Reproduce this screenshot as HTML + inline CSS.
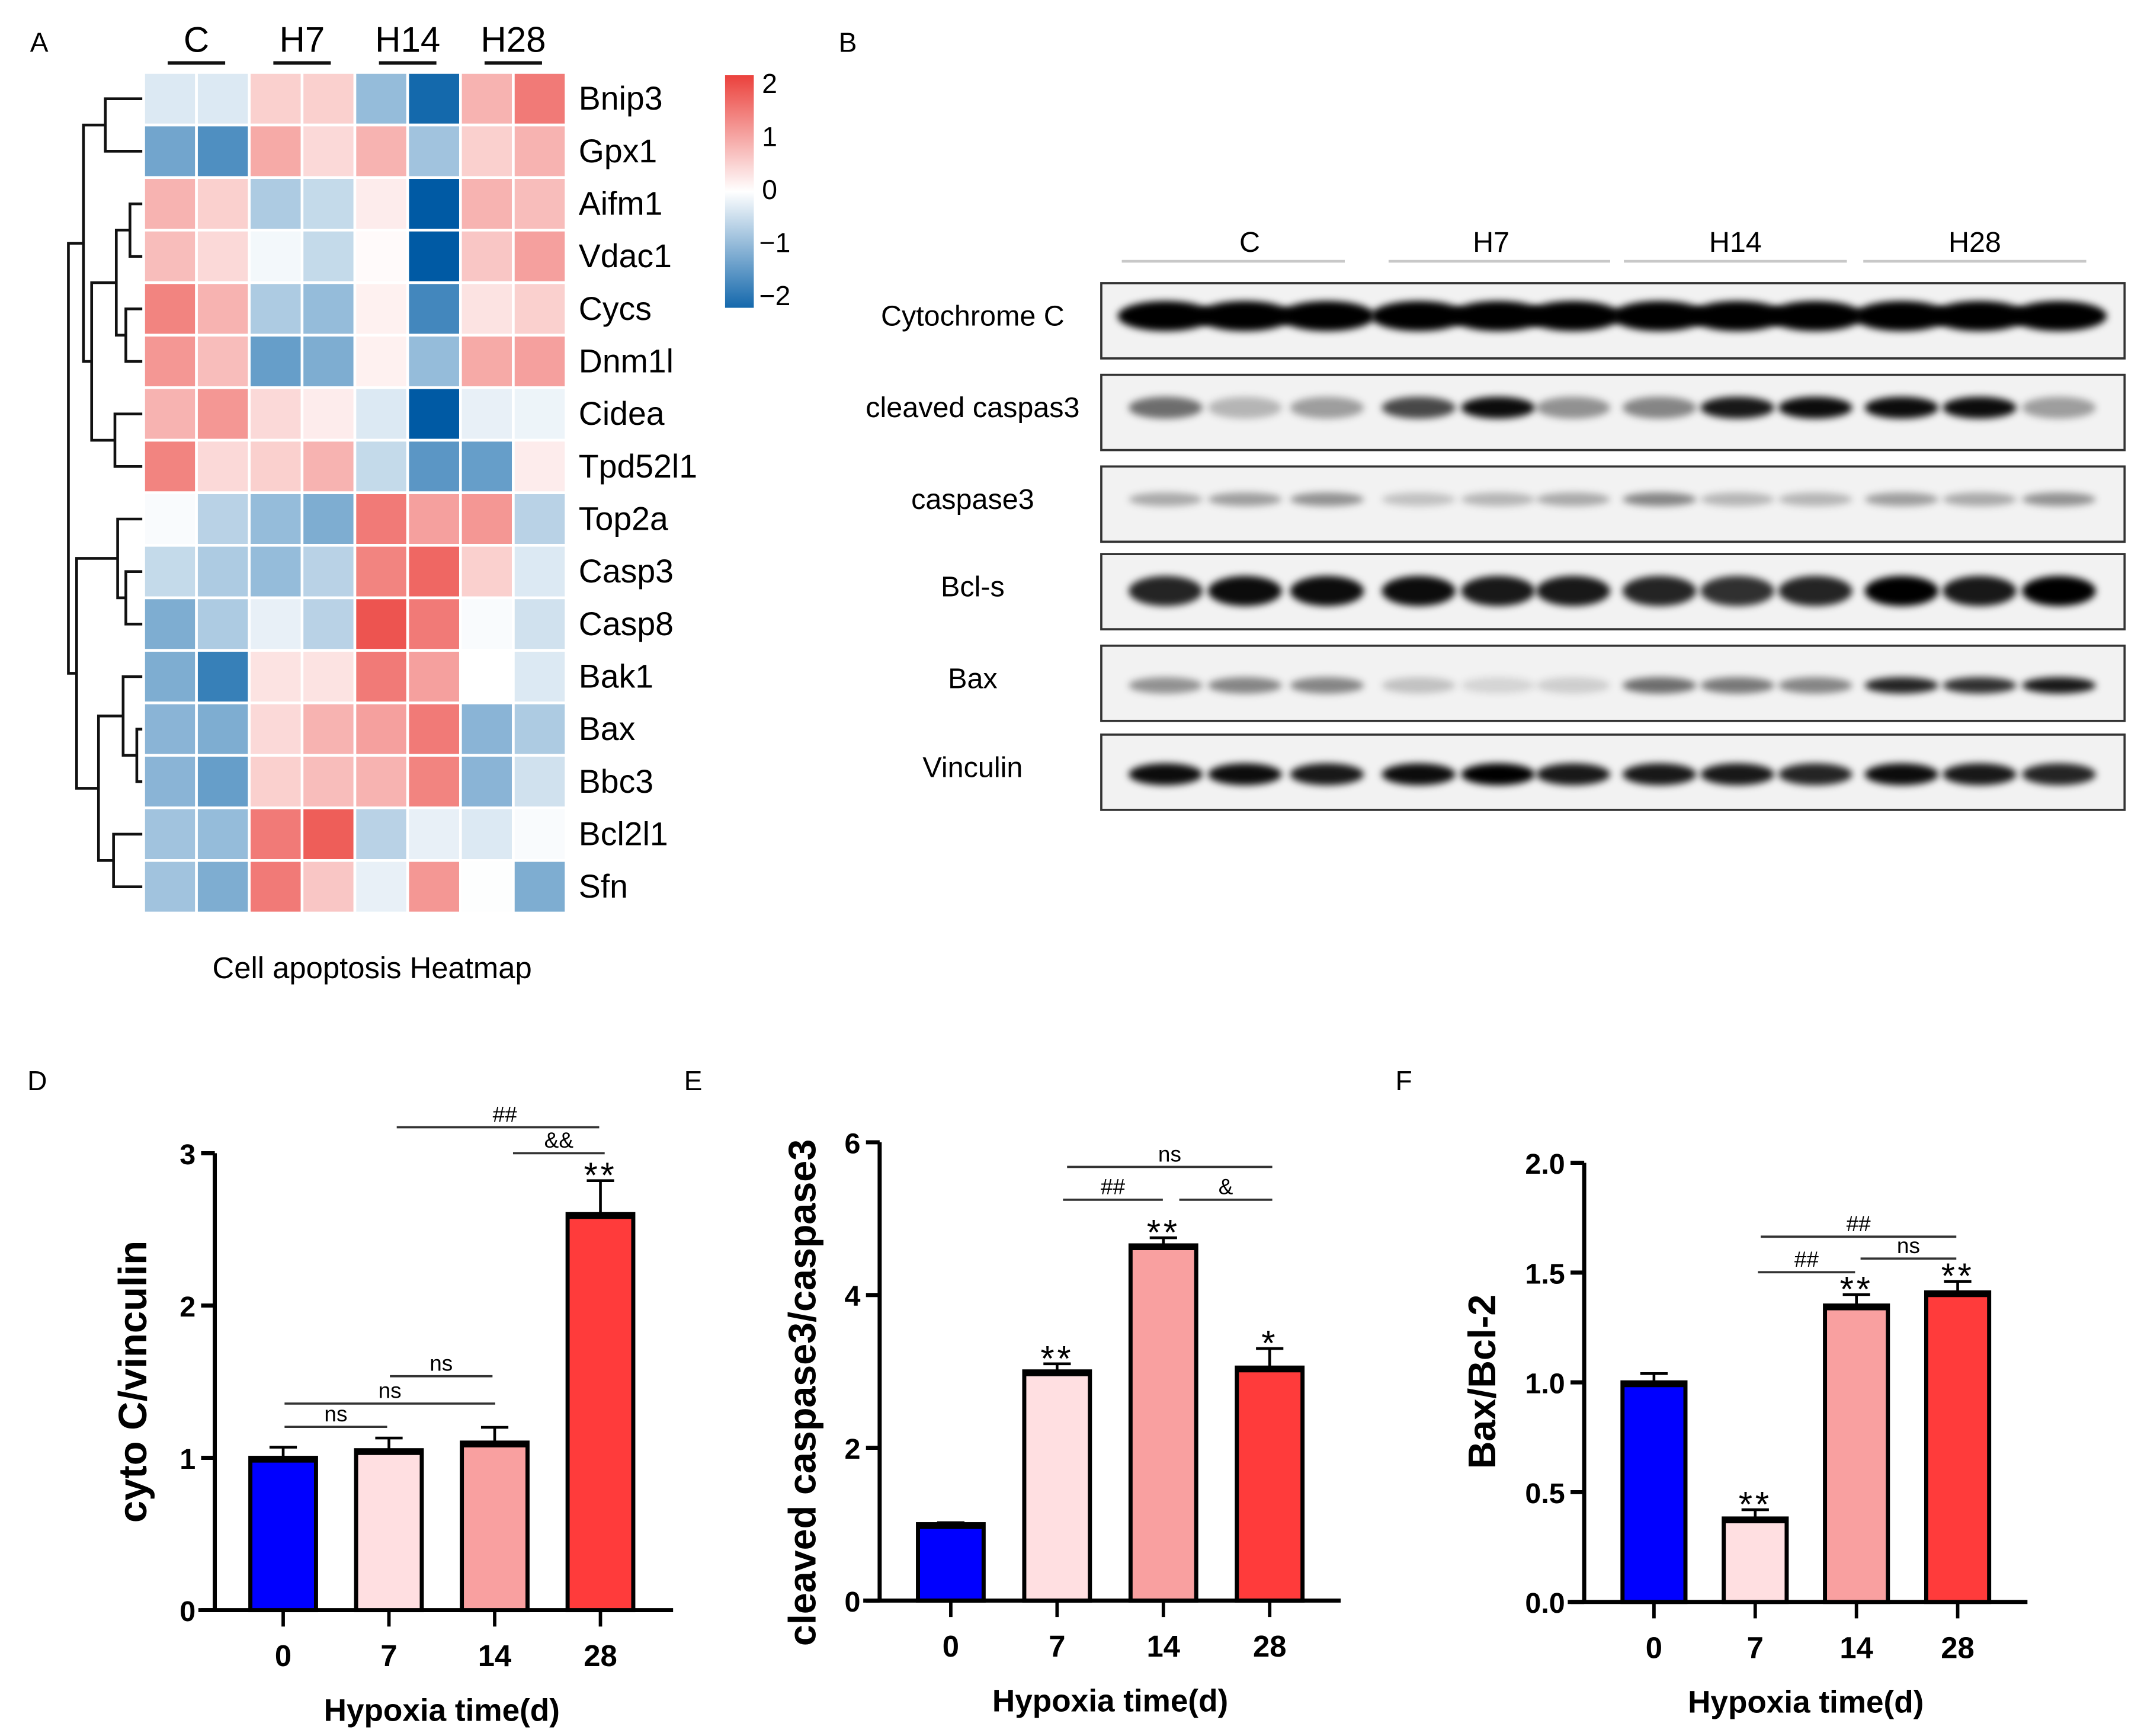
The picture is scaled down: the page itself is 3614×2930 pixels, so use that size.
<!DOCTYPE html>
<html><head><meta charset="utf-8"><style>
html,body{margin:0;padding:0;background:#fff;}
svg{display:block;font-family:"Liberation Sans",Arial,sans-serif;}
</style></head><body>
<svg id="fig" xmlns="http://www.w3.org/2000/svg" width="3614" height="2930" viewBox="0 0 1565 1269" preserveAspectRatio="none">
<defs>
<filter id="blur" x="-30%" y="-80%" width="160%" height="260%"><feGaussianBlur stdDeviation="2.6"/></filter>
<linearGradient id="cbar" x1="0" y1="0" x2="0" y2="1">
<stop offset="0" stop-color="#eb413c"/><stop offset="0.5" stop-color="#ffffff"/><stop offset="1" stop-color="#1468ac"/>
</linearGradient>
</defs>
<g id="root"></g>
</svg>
<script>
// ---------- Heatmap data ----------
const genes = ["Bnip3","Gpx1","Aifm1","Vdac1","Cycs","Dnm1l","Cidea","Tpd52l1","Top2a","Casp3","Casp8","Bak1","Bax","Bbc3","Bcl2l1","Sfn"];
const groups = ["C","H7","H14","H28"];
const heatValues = [
[-0.3,-0.3,0.5,0.5,-0.9,-2.0,0.8,1.4],
[-1.2,-1.5,0.9,0.4,0.8,-0.8,0.5,0.8],
[0.8,0.5,-0.7,-0.5,0.2,-2.2,0.8,0.7],
[0.7,0.4,-0.1,-0.5,0.05,-2.2,0.6,1.0],
[1.3,0.8,-0.7,-0.9,0.15,-1.6,0.3,0.5],
[1.1,0.7,-1.3,-1.1,0.15,-0.9,0.9,1.0],
[0.8,1.1,0.4,0.2,-0.3,-2.2,-0.2,-0.15],
[1.3,0.4,0.5,0.8,-0.5,-1.4,-1.3,0.2],
[-0.05,-0.6,-0.9,-1.1,1.4,1.0,1.1,-0.6],
[-0.5,-0.7,-0.9,-0.6,1.3,1.6,0.5,-0.3],
[-1.1,-0.7,-0.2,-0.6,1.8,1.4,-0.05,-0.4],
[-1.1,-1.7,0.3,0.3,1.4,1.0,0.0,-0.3],
[-1.0,-1.1,0.4,0.8,1.0,1.4,-1.0,-0.7],
[-1.0,-1.3,0.5,0.7,0.8,1.3,-1.0,-0.4],
[-0.8,-0.9,1.4,1.7,-0.6,-0.2,-0.3,-0.05],
[-0.8,-1.1,1.4,0.6,-0.2,1.1,-0.02,-1.1]
];
const colorTicks = [2,1,0,-1,-2];
// ---------- Bar chart data ----------
const timeCats = ["0","7","14","28"];
const dValues = [1.0,1.05,1.1,2.6];
const dErrors = [0.07,0.08,0.1,0.22];
const dTicks = [0,1,2,3];
const eValues = [1.0,3.0,4.65,3.05];
const eErrors = [0.02,0.1,0.1,0.25];
const eTicks = [0,2,4,6];
const fValues = [1.0,0.38,1.35,1.41];
const fErrors = [0.04,0.04,0.05,0.05];
const fTicks = [0,0.5,1.0,1.5,2.0];
const fTickLabels = ["0.0","0.5","1.0","1.5","2.0"];
const stars = {D:["","","","**"],E:["","**","**","*"],F:["","**","**","**"]};
const barColors = ["#0000ff","#ffdfe1","#f9a0a0","#ff3b3b"];
// ---------- Blot data (band intensity per lane) ----------
const blotNames = ["Cytochrome C","cleaved caspas3","caspase3","Bcl-s","Bax","Vinculin"];
const blotIntensity = [
[1,1,1,1,1,1,1,1,1,1,1,1],
[0.55,0.25,0.35,0.7,0.95,0.4,0.45,0.9,0.95,0.95,0.95,0.35],
[0.3,0.35,0.4,0.2,0.25,0.3,0.45,0.25,0.25,0.35,0.3,0.4],
[0.85,0.95,0.95,0.95,0.9,0.9,0.85,0.8,0.85,1,0.9,1],
[0.4,0.45,0.45,0.2,0.12,0.15,0.55,0.5,0.45,0.85,0.8,0.9],
[0.95,0.95,0.9,0.95,1,0.9,0.9,0.9,0.85,0.95,0.9,0.85]
];

const NS="http://www.w3.org/2000/svg";
const root=document.getElementById('root');
function mk(tag,attrs,parent){const e=document.createElementNS(NS,tag);for(const k in attrs)e.setAttribute(k,attrs[k]);(parent||root).appendChild(e);return e;}
function txt(s,attrs,parent){const e=mk('text',attrs,parent);e.textContent=s;return e;}

function heatColor(v){
  const t=Math.max(-2.2,Math.min(2.2,v))/2;
  let c;
  if(t>=0){const a=Math.min(t,1);c=[255+(235-255)*a,255+(65-255)*a,255+(60-255)*a];}
  else{const a=Math.min(-t,1.1);c=[255+(20-255)*a,255+(105-255)*a,255+(172-255)*a];}
  return 'rgb('+c.map(x=>Math.round(Math.max(0,Math.min(255,x)))).join(',')+')';
}

// ===== Panel A =====
const pA=mk('g',{});


let t=txt('A',{x:22,y:38,'font-size':20},pA);

const hx0=105,hy0=53,cw=38.6,ch=38.4;
groups.forEach((g,i)=>{
  const cx=hx0+cw*(2*i+1);
  const gt=txt(g,{x:cx,y:38,'font-size':26,'text-anchor':'middle'},pA);
  
  
  const ln=mk('line',{x1:cx-21,x2:cx+21,y1:46,y2:46,stroke:'#111','stroke-width':2.5},pA);
  
  
});
heatValues.forEach((row,r)=>{
  row.forEach((v,c)=>{
    const cell=mk('rect',{x:hx0+c*cw,y:hy0+r*ch,width:cw,height:ch,fill:heatColor(v),stroke:'#fff','stroke-width':2},pA);
    
    
  });
  const gl=txt(genes[r],{x:423,y:hy0+r*ch+ch/2+8,'font-size':24},pA);
  
  
});
const rowY=i=>hy0+ch*(i+0.5);
function leaf(i){return {y:rowY(i),x:104};}
function join(a,b,x){
  const g=mk('path',{d:`M${a.x},${a.y}H${x}V${b.y}H${b.x}`,fill:'none',stroke:'#111','stroke-width':2},pA);
  
  
  return {y:(a.y+b.y)/2,x:x};
}
const BG=join(leaf(0),leaf(1),77);
const AV=join(leaf(2),leaf(3),95);
const CD=join(leaf(4),leaf(5),92);
const AVCD=join(AV,CD,85);
const CT=join(leaf(6),leaf(7),84);
const M1=join(AVCD,CT,67);
const TOP=join(BG,M1,61);
const C38=join(leaf(9),leaf(10),92);
const TC=join(leaf(8),C38,86);
const BB=join(leaf(12),leaf(13),100);
const BBB=join(leaf(11),BB,90);
const BS=join(leaf(14),leaf(15),83);
const M2=join(BBB,BS,72);
const BOT=join(TC,M2,56);
join(TOP,BOT,50);
const cb=mk('rect',{x:530,y:55,width:21,height:170,fill:'url(#cbar)'},pA);


colorTicks.forEach((v,i)=>{
  const y=55+(2-v)/4*155+13;
  const ct=txt((v<0?'\u2212':'')+Math.abs(v),{x:v<0?555:557,y:y,'font-size':20},pA);
  
  
});
t=txt('Cell apoptosis  Heatmap',{x:272,y:715,'font-size':22,'text-anchor':'middle','xml:space':'preserve'},pA);


// ===== Panel B =====
const pB=mk('g',{});


t=txt('B',{x:613,y:38,'font-size':20},pB);

const gspan=[[820,983],[1015,1177],[1187,1350],[1362,1525]];
groups.forEach((g,i)=>{
  const gt=txt(g,{x:(gspan[i][0]+gspan[i][1])/2+(i==0?12:(i==1?-6:0)),y:184,'font-size':21,'text-anchor':'middle'},pB);
  
  
  const gl=mk('line',{x1:gspan[i][0],x2:gspan[i][1],y1:191,y2:191,stroke:'#c8c8c8','stroke-width':2},pB);
  
  
});
const blotTops=[207,274,341,405,472,537];
const laneX=[852,910,970,1037,1095,1150,1213,1270,1327,1390,1447,1505];
const bandOff=[24,24,24,27,29,29];
const bandH=[22,16,10,22,12,16];
blotNames.forEach((n,r)=>{
  const y0=blotTops[r];
  const box=mk('g',{},pB);
  
  
  const l=txt(n,{x:711,y:y0+31,'font-size':21,'text-anchor':'middle'},box);
  
  
  const bg=mk('rect',{x:805,y:y0,width:748,height:55,fill:'#f2f2f2',stroke:'#333','stroke-width':1.6},box);
  
  
  laneX.forEach((x,i)=>{
    const a=blotIntensity[r][i];
    const w=r===0?70:54;
    const b=mk('ellipse',{cx:x,cy:y0+bandOff[r],rx:w/2,ry:bandH[r]/2,fill:'#000','fill-opacity':a,filter:'url(#blur)'},box);
    
    
  });
});

// ===== Bar charts =====
function barChart(o){
  const g=mk('g',{});
  
  
  const yScale=v=>o.y0-(v-o.tmin)/(o.tmax-o.tmin)*(o.y0-o.y1);
  const pl=txt(o.letter,{x:o.lx,y:797,'font-size':20},g);
  
  
  const ya=mk('line',{x1:o.ax,x2:o.ax,y1:o.y1,y2:o.y0,stroke:'#000','stroke-width':3},g);
  
  
  const xa=mk('line',{x1:o.ax-12,x2:o.xend,y1:o.y0,y2:o.y0,stroke:'#000','stroke-width':3},g);
  
  
  o.ticks.forEach((v,i)=>{
    const y=yScale(v);
    const tk=mk('line',{x1:o.ax-10,x2:o.ax,y1:y,y2:y,stroke:'#000','stroke-width':3},g);
    
    
    const tl=txt(o.tickLabels?o.tickLabels[i]:String(v),{x:o.ax-14,y:y+8,'font-size':21,'font-weight':'bold','text-anchor':'end'},g);
    
    
  });
  const xs=i=>o.bx0+i*o.bstep;
  timeCats.forEach((c,i)=>{
    const x=xs(i), v=o.values[i], top=yScale(v), et=yScale(v+o.errors[i]);
    const tk=mk('line',{x1:x,x2:x,y1:o.y0,y2:o.y0+12,stroke:'#000','stroke-width':2.5},g);
    
    
    const el=mk('path',{d:`M${x},${top}V${et}M${x-10},${et}H${x+10}`,stroke:'#000','stroke-width':2,fill:'none'},g);
    
    
    const b=mk('rect',{x:x-o.bw/2,y:top,width:o.bw,height:o.y0-top,fill:barColors[i],stroke:'#000','stroke-width':3},g);
    
    
    const cap=mk('line',{x1:x-o.bw/2,x2:x+o.bw/2,y1:top+1.5,y2:top+1.5,stroke:'#000','stroke-width':4},g);
    
    
    const xl=txt(c,{x:x,y:o.y0+41,'font-size':22,'font-weight':'bold','text-anchor':'middle'},g);
    
    
    if(o.stars[i]){
      const s=txt(o.stars[i],{x:x,y:et+5,'font-size':26,'text-anchor':'middle','letter-spacing':'2'},g);
      
      
    }
  });
  const xt=txt('Hypoxia time(d)',{x:(xs(0)+xs(3))/2,y:o.y0+81,'font-size':23,'font-weight':'bold','text-anchor':'middle'},g);
  
  
  const yt=txt(o.ytitle,{x:0,y:0,'font-size':o.yfs,'font-weight':'bold','text-anchor':'middle',transform:`translate(${o.ytx},${o.yty}) rotate(-90)`},g);
  
  
  o.brackets.forEach(b=>{
    const bl=mk('line',{x1:b[0],x2:b[1],y1:b[2],y2:b[2],stroke:'#333','stroke-width':1.6},g);
    
    
    const bt=txt(b[3],{x:(b[0]+b[1])/2+(b[4]||0),y:b[2]-4,'font-size':16,'text-anchor':'middle'},g);
    
    
  });
}
barChart({name:'panel-d-cytoc-chart',letter:'D',lx:20,ax:157,xend:492,y0:1177,y1:843,tmin:0,tmax:3,ticks:dTicks,
  values:dValues,errors:dErrors,stars:stars.D,bx0:207,bstep:77.3,bw:48,ytitle:'cyto C/vinculin',yfs:29,ytx:107,yty:1010,
  brackets:[[208,283,1043,'ns'],[208,362,1026,'ns'],[285,360,1006,'ns'],[290,438,824,'##',5],[375,442,843,'&&']]});
barChart({name:'panel-e-caspase-chart',letter:'E',lx:500,ax:643,xend:980,y0:1170,y1:835,tmin:0,tmax:6,ticks:eTicks,
  values:eValues,errors:eErrors,stars:stars.E,bx0:695,bstep:77.7,bw:48,ytitle:'cleaved caspase3/caspase3',yfs:28,ytx:596,yty:1018,
  brackets:[[780,930,853,'ns'],[777,850,877,'##'],[862,930,877,'&']]});
barChart({name:'panel-f-bax-chart',letter:'F',lx:1020,ax:1158,xend:1482,y0:1171,y1:850,tmin:0,tmax:2,ticks:fTicks,tickLabels:fTickLabels,
  values:fValues,errors:fErrors,stars:stars.F,bx0:1209,bstep:74,bw:46,ytitle:'Bax/Bcl-2',yfs:28,ytx:1093,yty:1010,
  brackets:[[1287,1430,904,'##'],[1285,1356,930,'##'],[1360,1430,920,'ns']]});
</script>
</body></html>
